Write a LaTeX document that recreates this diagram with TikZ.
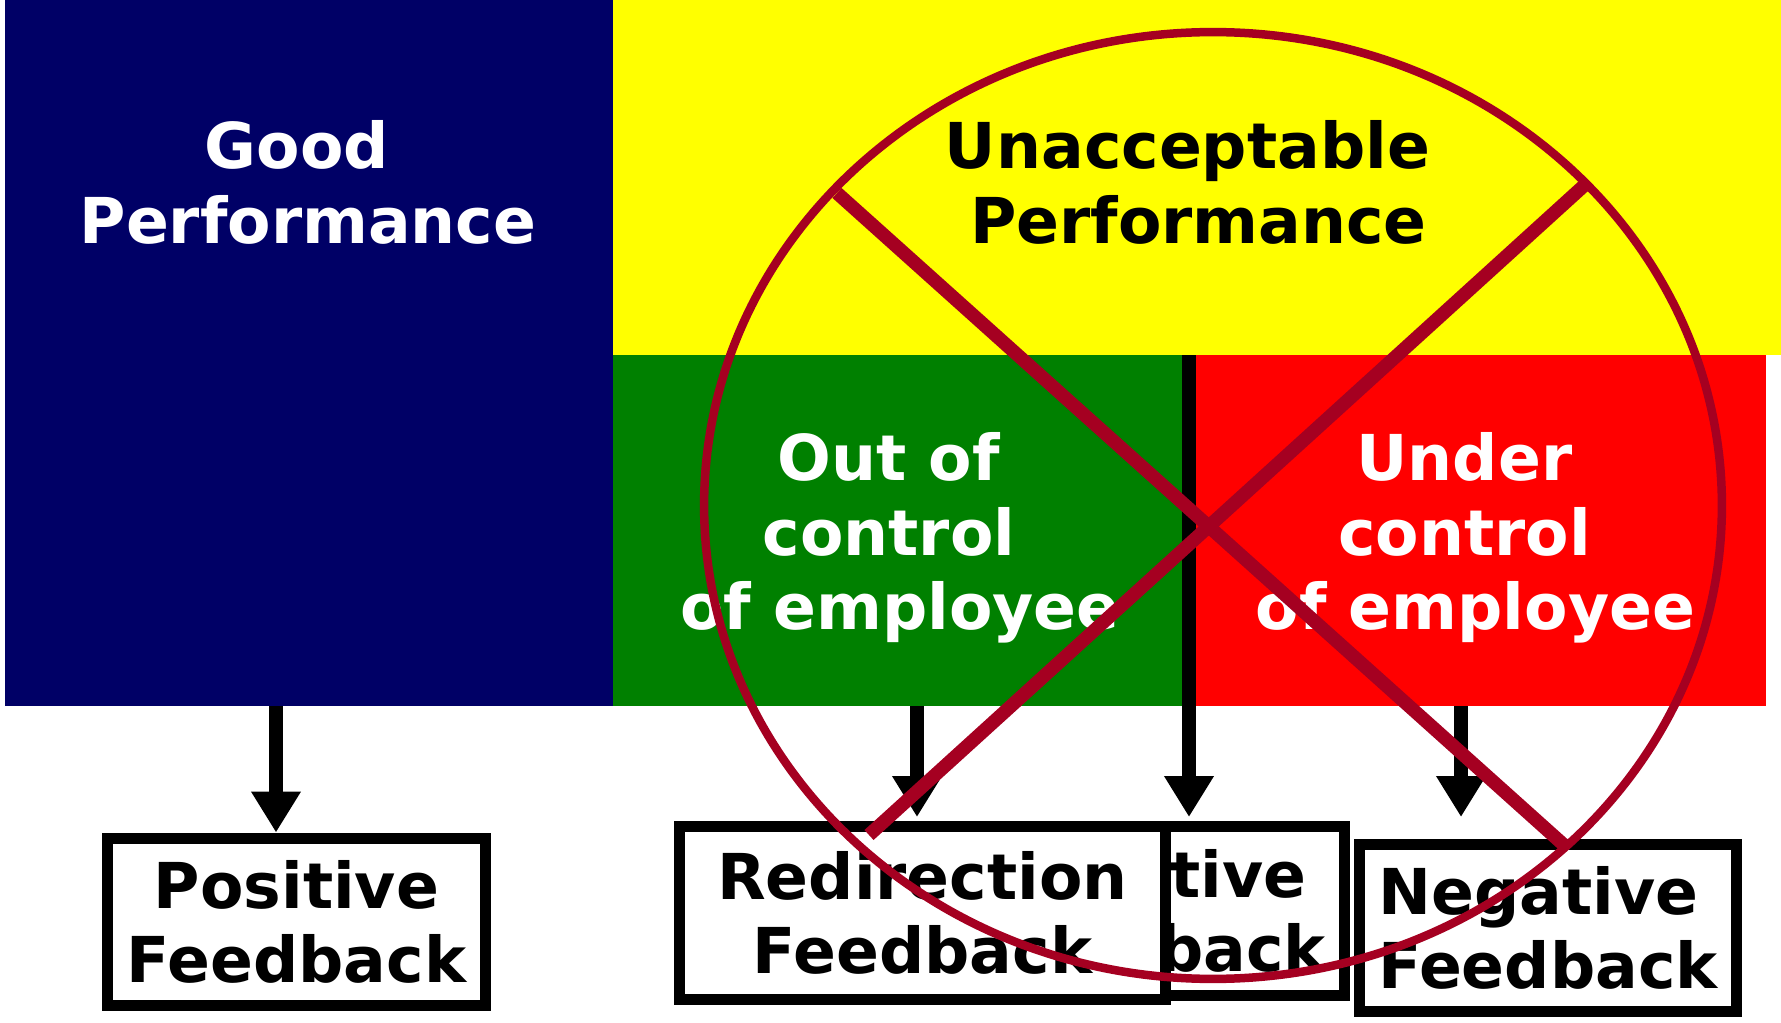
\documentclass[tikz,border=0pt]{standalone}
\usepackage{fontspec}
\setmainfont{DejaVu Sans}
\usetikzlibrary{arrows.meta}
\definecolor{navy}{HTML}{000066}
\definecolor{sunyellow}{HTML}{FFFF00}
\definecolor{leafgreen}{HTML}{008000}
\definecolor{brightred}{HTML}{FF0000}
\definecolor{crossred}{HTML}{A50021}

\begin{document}
\begin{tikzpicture}[x=0.02cm, y=-0.02cm,
  every node/.style={font=\fontsize{36}{42.5}\selectfont\bfseries, inner sep=0pt},
  area/.style={rectangle, outer sep=0pt},
  fb node/.style={draw, line width=0.22cm, fill=white, align=center,
    minimum width=7.56cm, minimum height=3.36cm},
  fb arrow/.style={line width=0.27cm, -{Triangle[width=0.94cm,length=0.82cm]}},
  cross/.style={crossred, line width=0.27cm}]
\useasboundingbox (0,0) rectangle (1781,1023);

% the four performance areas
\node[area, fill=navy, minimum width=12.17cm, minimum height=14.13cm] (good) at (308.75,353.25) {};
\node[area, fill=sunyellow, minimum width=23.36cm, minimum height=7.1cm] (unacc) at (1197,177.5) {};
\node[area, fill=leafgreen, minimum width=11.38cm, minimum height=7.03cm] (outctrl) at (897.5,530.75) {};
\node[area, fill=brightred, minimum width=11.42cm, minimum height=7.03cm] (underctrl) at (1480.5,530.75) {};

\node[white, align=center] (goodtxt) at (308,182.5) {Good\kern.35em\\Performance};
\node[align=center] (unacctxt) at (1198.5,182.5) {Unacceptable\kern.35em\\Performance};
\node[white, align=center] (outtxt) at (900,538) {Out of\kern.35em\\control\kern.35em\\of employee};
\node[white, align=center] (undertxt) at (1475.5,538) {Under\kern.35em\\control\kern.35em\\of employee};

% feedback boxes
\node[fb node] (pos) at (296.5,922) {Positive\\Feedback};
\node[fb node, align=left, minimum height=3.37cm] (neghid) at (1156,911) {Negative\\Feedback};
\node[fb node, minimum width=9.72cm, minimum height=3.46cm] (redir) at (922.5,913) {Redirection\\Feedback};
\node[fb node, align=left, minimum height=3.34cm] (neg) at (1548,928) {Negative\\Feedback};

\coordinate (tipline) at (0,817);
\coordinate (a1) at (276,0);
\coordinate (a2) at (917,0);
\coordinate (a3) at (1189,0);
\coordinate (a4) at (1461,0);

\draw[fb arrow] (a1 |- good.south) -- (a1 |- pos.north);
\draw[fb arrow] (a2 |- outctrl.south) -- (a2 |- tipline);
\draw[fb arrow] (a3 |- outctrl.north) -- (a3 |- tipline);
\draw[fb arrow] (a4 |- underctrl.south) -- (a4 |- tipline);

% crossed out
\draw[crossred, line width=0.17cm] (1213,505.5) ellipse [x radius=10.18cm, y radius=9.47cm];
\draw[cross] (837,193) -- (1565,846);
\draw[cross] (1588,182) -- (869,835);
\end{tikzpicture}
\end{document}
